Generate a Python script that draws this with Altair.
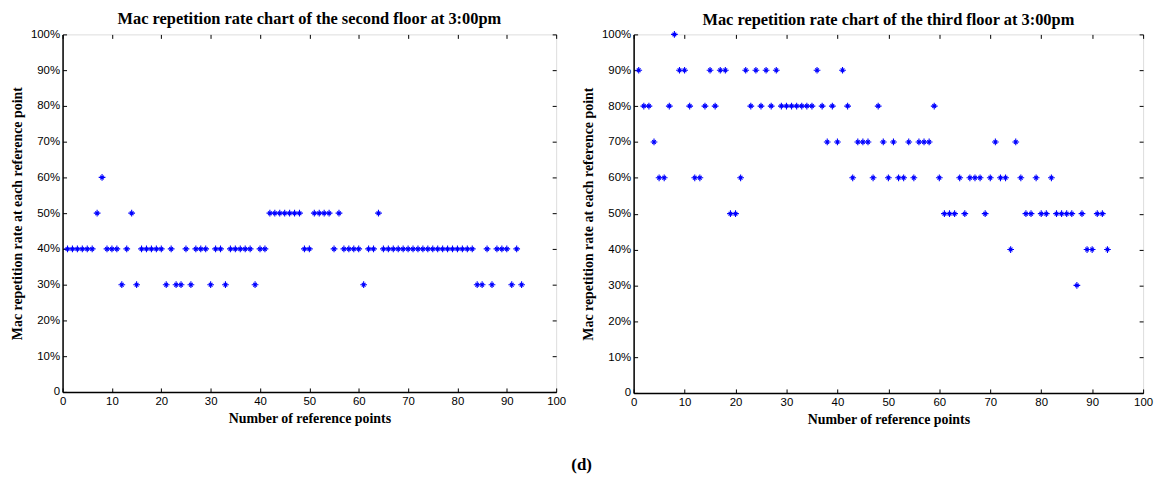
import altair as alt
import pandas as pd

# reference point index (1..93)
points = list(range(1, 94))

# second floor, repetition rate in %
second_floor = [
    40, 40, 40, 40, 40, 40, 50, 60, 40, 40,
    40, 30, 40, 50, 30, 40, 40, 40, 40, 40,
    30, 40, 30, 30, 40, 30, 40, 40, 40, 30,
    40, 40, 30, 40, 40, 40, 40, 40, 30, 40,
    40, 50, 50, 50, 50, 50, 50, 50, 40, 40,
    50, 50, 50, 50, 40, 50, 40, 40, 40, 40,
    30, 40, 40, 50, 40, 40, 40, 40, 40, 40,
    40, 40, 40, 40, 40, 40, 40, 40, 40, 40,
    40, 40, 40, 30, 30, 40, 30, 40, 40, 40,
    30, 40, 30,
]

# third floor, repetition rate in %
third_floor = [
    90, 80, 80, 70, 60, 60, 80, 100, 90, 90,
    80, 60, 60, 80, 90, 80, 90, 90, 50, 50,
    60, 90, 80, 90, 80, 90, 80, 90, 80, 80,
    80, 80, 80, 80, 80, 90, 80, 70, 80, 70,
    90, 80, 60, 70, 70, 70, 60, 80, 70, 60,
    70, 60, 60, 70, 60, 70, 70, 70, 80, 60,
    50, 50, 50, 60, 50, 60, 60, 60, 50, 60,
    70, 60, 60, 40, 70, 60, 50, 50, 60, 50,
    50, 60, 50, 50, 50, 50, 30, 50, 40, 40,
    50, 50, 40,
]

x_ticks = [0, 10, 20, 30, 40, 50, 60, 70, 80, 90, 100]
y_ticks = [0, 10, 20, 30, 40, 50, 60, 70, 80, 90, 100]

STAR = "M-1,0L1,0M0,-1L0,1M-0.55,-0.55L0.55,0.55M-0.55,0.55L0.55,-0.55"
SANS = "Liberation Sans"
SERIF = "Liberation Serif"
LABEL_EXPR = "datum.value == 0 ? '0' : datum.value + '%'"


def panel(values, title, w, h, title_offset):
    df = pd.DataFrame({"point": points, "rate": values})
    xs = alt.Scale(domain=[0, 100], nice=False, zero=False)
    ys = alt.Scale(domain=[0, 100], nice=False, zero=False)

    main = alt.Chart(df).mark_point(
        shape=STAR, size=46, filled=False, color="#0000ff",
        strokeWidth=1.1, opacity=1, clip=False,
    ).encode(
        x=alt.X("point:Q", scale=xs, axis=alt.Axis(
            orient="bottom", values=x_ticks, ticks=False, grid=False,
            domain=True, domainColor="black", domainWidth=1.5,
            labelFont=SANS, labelFontSize=11.5, labelColor="black",
            labelPadding=4, labelFlush=False,
            title="Number of reference points", titleFont=SERIF,
            titleFontSize=14, titleFontWeight="bold", titleColor="black",
            titlePadding=4)),
        y=alt.Y("rate:Q", scale=ys, axis=alt.Axis(
            orient="left", values=y_ticks, ticks=False, grid=False,
            domain=True, domainColor="black", domainWidth=1.5,
            labelFont=SANS, labelFontSize=11.5, labelColor="black",
            labelPadding=3, labelFlush=False, labelExpr=LABEL_EXPR,
            title="Mac repetition rate at each reference point",
            titleFont=SERIF, titleFontSize=14, titleFontWeight="bold",
            titleColor="black", titlePadding=6)),
    )

    ticks_bl = alt.Chart(df).mark_point(opacity=0).encode(
        x=alt.X("point:Q", scale=xs, axis=alt.Axis(
            orient="bottom", offset=-4, values=x_ticks, tickSize=4,
            tickColor="black", labels=False, domain=False, grid=False,
            title=None)),
        y=alt.Y("rate:Q", scale=ys, axis=alt.Axis(
            orient="left", offset=-4, values=y_ticks, tickSize=4,
            tickColor="black", labels=False, domain=False, grid=False,
            title=None)),
    )

    ticks_tr = alt.Chart(df).mark_point(opacity=0).encode(
        x=alt.X("point:Q", scale=xs, axis=alt.Axis(
            orient="top", offset=-4, values=x_ticks, tickSize=4,
            tickColor="black", labels=False, domain=False, grid=False,
            title=None)),
        y=alt.Y("rate:Q", scale=ys, axis=alt.Axis(
            orient="right", offset=-4, values=y_ticks, tickSize=4,
            tickColor="black", labels=False, domain=False, grid=False,
            title=None)),
    )

    return alt.layer(main, ticks_bl, ticks_tr).resolve_axis(
        x="independent", y="independent"
    ).properties(
        width=w, height=h,
        title=alt.TitleParams(title, font=SERIF, fontSize=16.5,
                              fontWeight="bold", color="black",
                              offset=title_offset, anchor="middle"),
    )


left = panel(second_floor,
             "Mac repetition rate chart of the second floor at 3:00pm", 497, 360, 1)
right = panel(third_floor,
              "Mac repetition rate chart of the third floor at 3:00pm", 513, 361, 0)

chart = alt.hconcat(left, right, spacing=14).properties(
    title=alt.TitleParams("(d)", orient="bottom", anchor="middle",
                          font=SERIF, fontSize=17, fontWeight="bold",
                          color="black", offset=31),
    padding={"left": 10, "top": 9, "right": 5, "bottom": 0},
).configure_view(stroke="black", strokeWidth=1).configure(background="white")

chart.save("out.html", embed_options={"renderer": "svg", "actions": False})
